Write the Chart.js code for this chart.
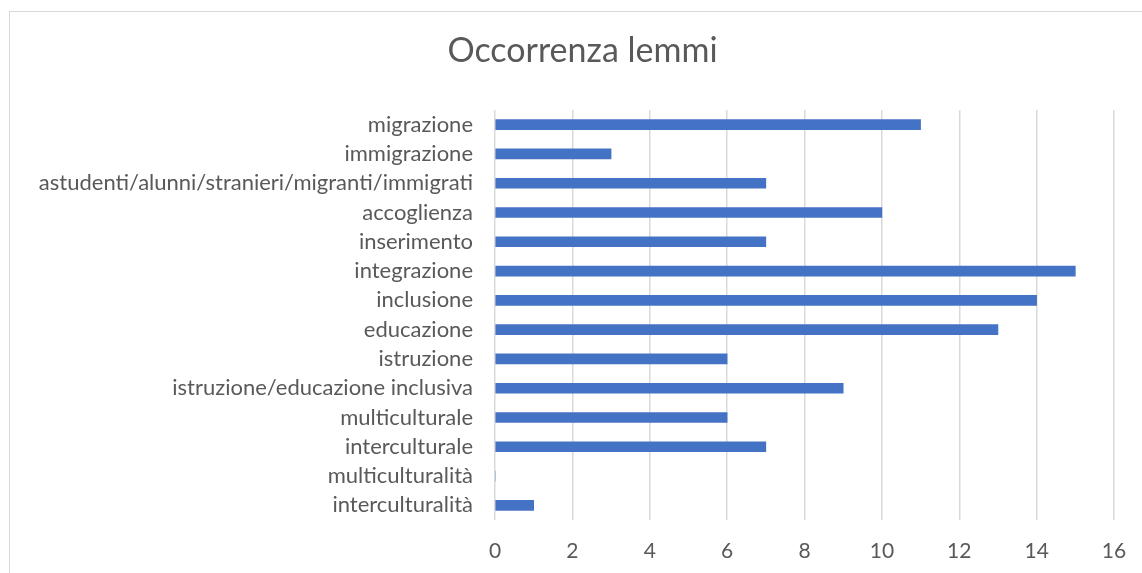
<!DOCTYPE html>
<html>
<head>
<meta charset="utf-8">
<script src="https://cdn.jsdelivr.net/npm/chart.js@4/dist/chart.umd.min.js"></script>
<style>
  html, body { margin: 0; padding: 0; background: #ffffff; overflow: hidden; width: 1142px; height: 573px; }
  #wrap { position: absolute; left: 9px; top: 11px; width: 1145px; height: 562px; border: 1px solid #d9d9d9; background: #fff; }
  canvas { display: block; }
</style>
</head>
<body>
<div id="wrap"><canvas id="c" width="1145" height="562"></canvas></div>
<script>
const chartTitle = "Occorrenza lemmi";
const categories = [
  "migrazione",
  "immigrazione",
  "astudenti/alunni/stranieri/migranti/immigrati",
  "accoglienza",
  "inserimento",
  "integrazione",
  "inclusione",
  "educazione",
  "istruzione",
  "istruzione/educazione inclusiva",
  "multiculturale",
  "interculturale",
  "multiculturalità",
  "interculturalità"
];
const occurrences = [11, 3, 7, 10, 7, 15, 14, 13, 6, 9, 6, 7, 0, 1];
const xMin = 0;
const xMax = 16;
const xStep = 2;

const FONT = "Lato, 'Open Sans', sans-serif";
const TEXT = "#595959";

new Chart(document.getElementById('c'), {
  type: 'bar',
  data: {
    labels: categories,
    datasets: [{
      data: occurrences,
      backgroundColor: '#4472C4',
      borderWidth: 0,
      barThickness: 10
    }]
  },
  options: {
    indexAxis: 'y',
    responsive: false,
    animation: false,
    devicePixelRatio: 1,
    layout: { padding: { left: 0, right: 0, top: 0, bottom: 0 } },
    plugins: {
      legend: { display: false },
      tooltip: { enabled: false },
      title: {
        display: true,
        text: chartTitle,
        color: TEXT,
        font: { family: FONT, size: 34, weight: 'normal', lineHeight: 1.2 },
        padding: { top: 18.6, bottom: 38.6 }
      }
    },
    scales: {
      x: {
        min: xMin,
        max: xMax,
        ticks: {
          stepSize: xStep,
          color: TEXT,
          font: { family: FONT, size: 21 },
          padding: 19
        },
        grid: { color: '#d9d9d9', lineWidth: 1.5, drawTicks: false },
        border: { display: false },
        afterFit: (s) => { s.height = 54; }
      },
      y: {
        ticks: {
          color: TEXT,
          font: { family: FONT, size: 22 },
          padding: 22,
          autoSkip: false
        },
        grid: { display: false, drawTicks: false },
        border: { display: false },
        afterFit: (s) => { s.width = 485; }
      },
      spacer: {
        type: 'category',
        position: 'right',
        axis: 'y',
        display: true,
        ticks: { display: false },
        grid: { display: false, drawTicks: false },
        border: { display: false },
        afterFit: (s) => { s.width = 41; }
      }
    }
  }
});
</script>
</body>
</html>
